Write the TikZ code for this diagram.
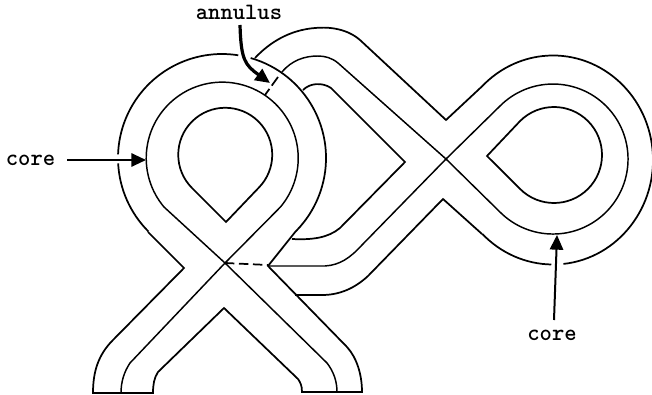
\documentclass[tikz,border=0pt]{standalone}
\usepackage{amsmath}
\usepackage{tikz}
\usetikzlibrary{arrows.meta}
\tikzset{
    band/.style={black, line width=1.3pt, line join=miter},
    core/.style={black, line width=1.1pt},
    tag/.style={font=\ttfamily\bfseries\fontsize{17.6}{17.6}\selectfont, inner sep=0pt},
    pointer/.style={black, line width=1.5pt, -{Triangle[length=11pt,width=10pt]}},
}
\begin{document}
\begin{tikzpicture}[x=0.75pt,y=-0.75pt]
        \useasboundingbox (0,0) rectangle (652,395);
        \coordinate (leftc) at (222,158);
        \coordinate (rightc) at (553,160);

        % left loop
        \draw[band] (leftc) ++(135:104) arc (135:177:104);
        \draw[band] (leftc) ++(182:104) arc (182:279:104);
        \draw[band] (leftc) ++(286:104) arc (286:405:104) -- (268,266) -- (347,347)
            .. controls (357,358) and (362,375) .. (362,392) -- (302,392)
            .. controls (302,385) and (300,382) .. (298,379) -- (224,308) -- (158,372)
            .. controls (154,378) and (153,385) .. (153,393) -- (93,393)
            .. controls (93,372) and (98,355) .. (113,340) -- (184,268) -- (148,232);
        \draw[core] (225,263) -- (327,363) .. controls (334,372) and (337,382) .. (337,392);
        \draw[core] (225,263) -- (130,363) .. controls (124,372) and (121,382) .. (121,393);
        \draw[core] (225,263) -- (164,207) arc (140:400:76) -- cycle;
        \draw[band] (226,222) -- (192,188) arc (135:405:47) -- cycle;

        % right loop
        \draw[band] (rightc) ++(135:100 and 104.5) arc (135:91:100 and 104.5);
        \draw[band] (rightc) ++(84:100 and 104.5) arc (84:-135:100 and 104.5) -- (446,120) -- (360,40)
            .. controls (345,27) and (325,27) .. (315,28) .. controls (290,30) and (270,42) .. (255,58);
        \draw[band] (554,155) ++(135:48) arc (135:-135:48) -- (487,156) -- cycle;
        \draw[core] (446,159) -- (500,106) arc (225:495:75) -- (446,159);

        % strands under the left loop
        \draw[band] (303,90) .. controls (310,83) and (322,82) .. (331,88) -- (405,162) -- (340,228)
            .. controls (328,238) and (312,240) .. (292,239);
        \draw[core] (282,72) .. controls (292,60) and (305,56) .. (318,56)
            .. controls (325,56) and (332,58) .. (338,63) -- (446,159) -- (362,245)
            .. controls (350,258) and (340,265) .. (325,266) -- (268,266);
        \draw[band] (295,295) -- (322,295) .. controls (340,295) and (355,288) .. (368,276) -- (443,199)
            -- (482,234);

        % dashed cuts
        \draw[band, dash pattern=on 7pt off 3.5pt] (225,263) -- (268,265);
        \draw[band, dash pattern=on 8pt off 3pt] (278,77) -- (265,95);

        % labels
        \node[tag] (annuluslabel) at (239,12) {annulus};
        \node[tag] (coreleft) at (30.5,160) {core};
        \node[tag] (coreright) at (552,335) {core};
        \coordinate (annulustip) at (270,83);
        \coordinate (coretipleft) at (146,160);
        \coordinate (coretipright) at (557,235);
        \coordinate (annulusstart) at (240,25);
        \coordinate (corestartleft) at (67,160);
        \coordinate (corestartright) at (554,320);
        \draw[pointer, line width=2.4pt] (annulusstart) .. controls (241,60) and (245,65) .. (annulustip);
        \draw[pointer] (corestartleft) -- (coretipleft);
        \draw[pointer] (corestartright) -- (coretipright);
\end{tikzpicture}
\end{document}
